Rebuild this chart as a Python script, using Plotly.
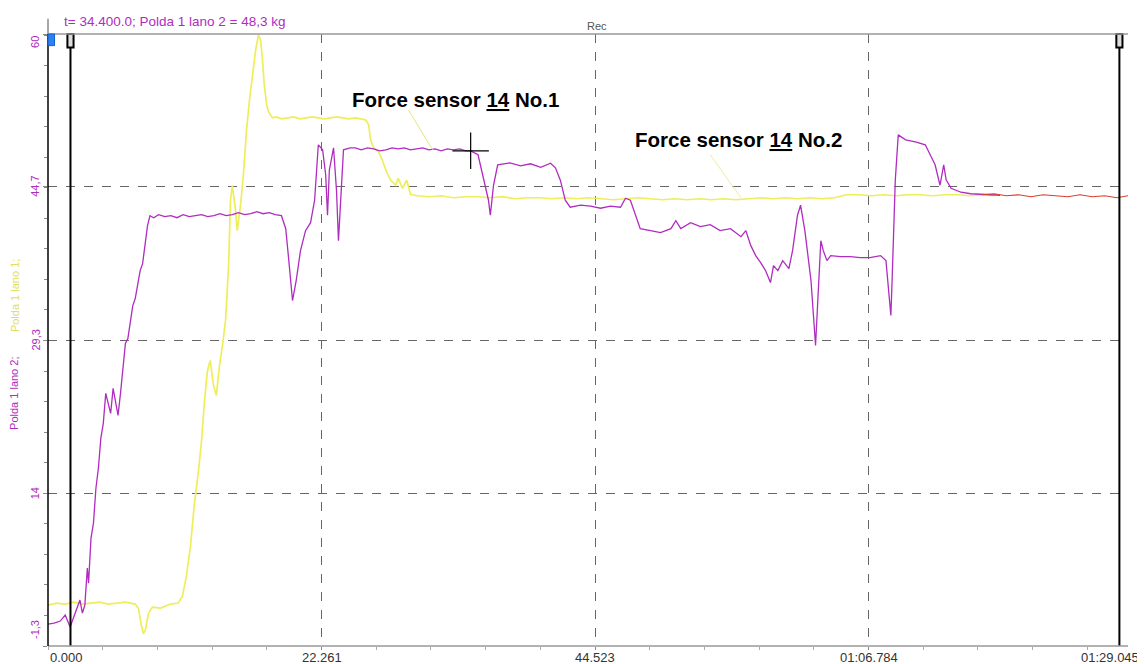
import plotly.graph_objects as go

# ---------------- data ----------------
# Polda 1 lano 2 (magenta)
lano2_t = [0.0, 0.5, 1.0, 1.4, 1.8, 2.2, 2.6, 2.8, 3.0, 3.2, 3.3, 3.5, 3.7, 3.9, 4.1, 4.3, 4.5, 4.7,
           4.9, 5.1, 5.3, 5.5, 5.7, 5.9, 6.1, 6.3, 6.5, 6.7, 6.9, 7.1, 7.3, 7.5, 7.7, 7.9, 8.1, 8.3,
           8.6, 9.0, 9.5, 10.0, 10.5, 11.0, 11.5, 12.0, 12.5, 13.0, 13.5, 14.0, 14.5, 15.0, 15.5,
           16.0, 16.5, 17.0, 17.5, 18.0, 18.5, 19.0, 19.35, 19.6, 19.9, 20.2, 20.55, 20.96, 21.37,
           21.7, 22.0, 22.35, 22.6, 22.75, 22.9, 23.24, 23.48, 23.64, 23.8, 24.05, 24.6,
           25.0, 25.5, 26.0, 26.5, 27.0, 27.5, 28.0, 28.5, 29.0, 29.5, 30.0, 30.5, 31.0, 31.5,
           32.0, 32.5, 33.0, 33.5, 34.0, 34.4, 35.0, 35.4, 35.85, 36.0, 36.26, 36.6, 37.6, 38.46,
           39.27, 40.1, 40.9, 41.3, 41.7, 42.1, 42.5, 43.34, 44.16, 44.97, 45.78, 46.6, 47.0, 47.4,
           47.8, 48.2, 49.04, 49.85, 50.7, 51.1, 51.5, 52.3, 53.1, 53.9, 54.7, 55.55, 56.4, 56.8,
           57.2, 57.6, 58.0, 58.4, 58.8, 59.05, 59.4, 59.8, 60.3, 60.6, 61.0, 61.25, 61.6, 61.9,
           62.1, 62.47, 62.7, 62.9, 63.1, 63.4, 63.7, 64.5, 65.3, 66.1, 66.9, 67.76, 68.2, 68.4,
           68.6, 68.7, 68.96, 69.2, 69.8, 70.6, 71.4, 71.8, 72.2, 72.6, 72.9, 73.1, 73.5, 74.3,
           75.1, 75.9, 76.7, 77.5]
lano2_v = [0.9, 1.0, 1.2, 1.8, 0.6, 2.0, 3.3, 2.0, 2.8, 6.5, 5.0, 9.5, 11.0, 14.5, 16.5, 19.5, 21.0, 24.0,
           23.0, 22.0, 24.5, 23.0, 21.8, 24.0, 26.5, 29.0, 29.5, 31.0, 32.8, 33.5, 34.8, 36.3, 37.0, 38.8, 40.8, 41.8,
           41.6, 41.9, 41.7, 41.8, 41.6, 41.9, 41.7, 41.8, 41.9, 41.7, 41.8, 42.0, 41.8, 41.9, 42.1,
           41.9, 42.0, 42.2, 42.0, 42.1, 41.9, 41.8, 40.5, 37.3, 33.3, 35.3, 38.3, 40.3, 41.1,
           43.35, 48.9, 48.4, 45.9, 41.85, 46.4, 48.6, 44.35, 39.3, 43.35, 48.4, 48.6,
           48.6, 48.4, 48.6, 48.5, 48.3, 48.4, 48.6, 48.5, 48.6, 48.4, 48.5, 48.6, 48.4, 48.5,
           48.3, 48.5, 48.4, 48.5, 48.3, 48.3, 47.9, 45.9, 43.35, 41.85, 44.85, 46.9, 47.1, 46.8,
           47.0, 46.65, 47.06, 46.6, 45.36, 43.35, 42.65, 42.85, 42.75, 42.55, 42.75, 42.65, 43.55, 43.35,
           41.85, 40.5, 40.3, 40.1, 40.5, 41.3, 40.5, 41.1, 40.7, 40.9, 40.3, 40.5, 39.7, 40.3,
           38.8, 37.8, 37.1, 36.3, 35.1, 36.8, 36.3, 37.3, 36.5, 38.3, 41.85, 42.85, 40.3, 37.3,
           35.3, 28.8, 34.3, 39.3, 38.3, 37.3, 37.8, 37.7, 37.7, 37.6, 37.6, 37.8, 37.3, 34.8,
           31.8, 35.3, 45.35, 49.9, 49.4, 49.2, 48.9, 47.9, 46.9, 44.85, 46.9, 45.4, 44.55, 44.15,
           44.0, 43.95, 43.9, 43.85]

# Polda 1 lano 1 (yellow)
lano1_t = [0.0, 0.7, 1.4, 2.1, 2.8, 3.5, 4.2, 4.9, 5.6, 6.3, 7.1, 7.37, 7.6, 7.77, 7.94, 8.18, 8.5,
           9.16, 9.97, 10.6, 10.95, 11.27, 11.6, 11.9, 12.25, 12.5, 12.74, 12.98, 13.2, 13.47, 13.7,
           13.96, 14.2, 14.45, 14.7, 14.85, 15.0, 15.26, 15.4, 15.67, 15.9, 16.16, 16.4, 16.64, 16.9,
           17.13, 17.3, 17.46, 17.6, 17.8, 17.95, 18.27, 18.6, 19.0, 19.5, 20.0, 20.5, 21.0, 21.5,
           22.0, 22.5, 23.0, 23.5, 24.0, 24.5, 25.0, 25.5, 25.85, 26.1, 26.25, 26.5, 26.9, 27.2,
           27.55, 27.9, 28.3, 28.5, 28.85, 29.2, 29.5, 30, 31, 32, 33, 34, 35, 36, 37, 38, 39, 40,
           41, 42, 43, 44, 45, 46, 47, 48, 49, 50, 51, 52, 53, 54, 55, 56, 57, 58, 59, 60, 61, 62,
           63, 64, 65, 66, 67, 68, 69, 70, 71, 72, 73, 74, 75, 76, 77]
lano1_v = [2.8, 3.0, 2.9, 3.1, 2.9, 3.0, 3.1, 2.9, 3.0, 3.1, 2.9, 2.43, 0.75, -0.08, 0.4, 2.0, 2.6,
           2.5, 2.9, 3.0, 3.73, 5.74, 8.75, 12.76, 16.27, 19.28, 23.3, 26.3, 27.3, 24.8, 23.8,
           26.8, 28.8, 31.3, 36.8, 43.35, 44.85, 42.35, 40.3, 42.85, 45.85, 50.4, 53.4, 55.9, 58.4,
           59.9, 59.4, 57.4, 54.9, 52.9, 52.2, 51.6, 51.7, 51.5, 51.6, 51.7, 51.5, 51.6, 51.7,
           51.6, 51.5, 51.6, 51.7, 51.6, 51.5, 51.6, 51.5, 51.4, 50.9, 49.4, 48.6, 48.2, 47.4,
           46.2, 45.35, 44.85, 45.55, 44.55, 45.35, 43.95, 43.8, 43.7, 43.8, 43.6, 43.7, 43.7, 43.6, 43.7, 43.5, 43.6, 43.6,
           43.5, 43.6, 43.5, 43.6, 43.5, 43.4, 43.5, 43.6, 43.5, 43.4, 43.5, 43.4, 43.5, 43.4, 43.5, 43.4, 43.5, 43.6, 43.5, 43.6, 43.5, 43.6,
           43.5, 43.6, 43.9, 43.9, 43.8, 43.9, 43.8, 43.9, 43.9, 43.8, 43.9, 43.9, 43.8, 43.9, 43.8]

# overlap segment at the end (drawn red)
tail_t = [76.0, 77.0, 78.0, 79.0, 80.0, 81.0, 82.0, 83.0, 84.0, 85.0, 86.0, 87.0, 87.9]
tail_v = [43.9, 44.0, 43.8, 43.9, 43.7, 43.9, 43.8, 43.7, 43.9, 43.7, 43.8, 43.6, 43.8]

cursor_t, cursor_v = 34.4, 48.3
marker_lines_t = [1.83, 87.2]

x_tickvals = [22.261, 44.523, 66.784]
x_ticktext = ["22.261", "44.523", "01:06.784"]
y_tickvals = [-1.3, 14, 29.3, 44.7, 60]
y_ticktext = ["-1,3", "14", "29,3", "44,7", "60"]

X_MAX = 87.9
MAGENTA = "#b02cc0"
YELLOW = "#eeee5a"
FONT = "Arial, Liberation Sans, sans-serif"

fig = go.Figure()
fig.add_trace(go.Scatter(x=lano1_t, y=lano1_v, mode="lines",
                         line=dict(color=YELLOW, width=1.7), hoverinfo="skip"))
fig.add_trace(go.Scatter(x=lano2_t, y=lano2_v, mode="lines",
                         line=dict(color=MAGENTA, width=1.3), hoverinfo="skip"))
fig.add_trace(go.Scatter(x=tail_t, y=tail_v, mode="lines",
                         line=dict(color="#d8402c", width=1.2), hoverinfo="skip"))
fig.add_trace(go.Scatter(x=[cursor_t], y=[cursor_v], mode="markers",
                         marker=dict(symbol="cross-thin", size=26,
                                     line=dict(color="black", width=1.2)),
                         hoverinfo="skip"))

shapes = []
# cursor lines
for t in marker_lines_t:
    shapes.append(dict(type="line", xref="x", yref="paper", x0=t, x1=t, y0=0, y1=1,
                       line=dict(color="black", width=2)))
    shapes.append(dict(type="rect", xref="x", yref="paper", x0=t - 0.25, x1=t + 0.25,
                       y0=0.978, y1=1.0, line=dict(color="black", width=2),
                       fillcolor="#dddddd"))
# borders
shapes.append(dict(type="line", xref="paper", yref="paper", x0=0, x1=1, y0=1, y1=1,
                   line=dict(color="#999999", width=1.5)))
shapes.append(dict(type="line", xref="paper", yref="paper", x0=0, x1=1, y0=0, y1=0,
                   line=dict(color="#999999", width=1.5)))
shapes.append(dict(type="line", xref="paper", yref="paper", x0=0, x1=0, y0=0, y1=1,
                   line=dict(color="black", width=1.5)))
# blue marker at top-left
shapes.append(dict(type="rect", xref="paper", yref="paper", x0=0.0, x1=0.006,
                   y0=0.981, y1=1.0, line=dict(color="#1060d0", width=1), fillcolor="#3080f0"))
# small arrow above y axis
shapes.append(dict(type="line", xref="paper", yref="paper", x0=0, x1=0, y0=1, y1=1.025,
                   line=dict(color="#888888", width=1.5)))
# leader lines
shapes.append(dict(type="line", xref="x", yref="y", x0=29.34, y0=52.4, x1=31.3, y1=48.4,
                   line=dict(color="#e6e680", width=1)))
shapes.append(dict(type="line", xref="x", yref="y", x0=53.9, y0=47.9, x1=56.4, y1=43.6,
                   line=dict(color="#eeee99", width=1)))

annotations = [
    dict(text="t= 34.400.0; Polda 1 lano 2 = 48,3 kg", xref="paper", yref="paper",
         x=0.013, y=1.0, xanchor="left", yanchor="bottom", yshift=3, showarrow=False,
         font=dict(family=FONT, size=13.5, color=MAGENTA)),
    dict(text="Rec", xref="paper", yref="paper", x=0.508, y=1.0, xanchor="center",
         yanchor="bottom", showarrow=False, font=dict(family=FONT, size=11, color="#555555")),
    dict(text="<b>Force sensor <u>14</u> No.1</b>", xref="x", yref="y", x=24.6, y=53.4,
         xanchor="left", yanchor="middle", showarrow=False,
         font=dict(family=FONT, size=20.5, color="black")),
    dict(text="<b>Force sensor <u>14</u> No.2</b>", xref="x", yref="y", x=47.6, y=49.4,
         xanchor="left", yanchor="middle", showarrow=False,
         font=dict(family=FONT, size=20.5, color="black")),
    dict(text="Polda 1 lano 1;", xref="paper", yref="y", x=-0.031, y=33.8, textangle=-90,
         xanchor="center", yanchor="middle", showarrow=False,
         font=dict(family=FONT, size=11, color="#e0e060")),
    dict(text="Polda 1 lano 2;", xref="paper", yref="y", x=-0.031, y=24.0, textangle=-90,
         xanchor="center", yanchor="middle", showarrow=False,
         font=dict(family=FONT, size=11, color=MAGENTA)),
    dict(text="0.000", xref="x", yref="paper", x=0, y=0, xanchor="left", yanchor="top",
         yshift=-2, showarrow=False, font=dict(family=FONT, size=13, color="#333333")),
    dict(text="01:29.045", xref="paper", yref="paper", x=1.0, y=0, xanchor="right",
         yanchor="top", xshift=13, yshift=-2, showarrow=False,
         font=dict(family=FONT, size=13, color="#333333")),
]
# x tick labels (placed close to the axis, as in the reference)
for tv, tt in zip(x_tickvals, x_ticktext):
    annotations.append(dict(text=tt, xref="x", yref="paper", x=tv, y=0, xanchor="center",
                            yanchor="top", yshift=-2, showarrow=False,
                            font=dict(family=FONT, size=13, color="#333333")))
# y tick labels (rotated); end labels kept inside the plot height
y_label_pos = {-1.3: 0.3, 60: 59.2}
for tv, tt in zip(y_tickvals, y_ticktext):
    annotations.append(dict(text=tt, xref="paper", yref="y", x=0, y=y_label_pos.get(tv, tv),
                            xanchor="center", yanchor="middle", xshift=-13, textangle=-90,
                            showarrow=False, font=dict(family=FONT, size=11, color=MAGENTA)))

# the page body adds an 8px offset at top/left, so the figure is 8px smaller
fig.update_layout(
    width=1137, height=656,
    margin=dict(l=40, r=17, t=26, b=18, autoexpand=False),
    paper_bgcolor="white", plot_bgcolor="white",
    showlegend=False,
    shapes=shapes, annotations=annotations,
    xaxis=dict(range=[0, X_MAX], tickvals=x_tickvals, showticklabels=False,
               automargin=False,
               showgrid=True, gridcolor="#666666", griddash="dash", gridwidth=1,
               zeroline=False, showline=False, ticks="outside", ticklen=3,
               tickcolor="#888888",
               minor=dict(tick0=0, dtick=4.4522, ticks="outside", ticklen=3,
                          tickcolor="#aaaaaa", showgrid=False)),
    yaxis=dict(range=[-1.3, 60], tickvals=y_tickvals, showticklabels=False,
               automargin=False,
               showgrid=True, gridcolor="#666666", griddash="dash", gridwidth=1,
               zeroline=False, showline=False, ticks="outside", ticklen=4,
               tickcolor="#888888",
               minor=dict(tick0=-1.3, dtick=3.06, ticks="outside", ticklen=3,
                          tickcolor="#888888", showgrid=False)),
)

fig.write_html("out.html")
